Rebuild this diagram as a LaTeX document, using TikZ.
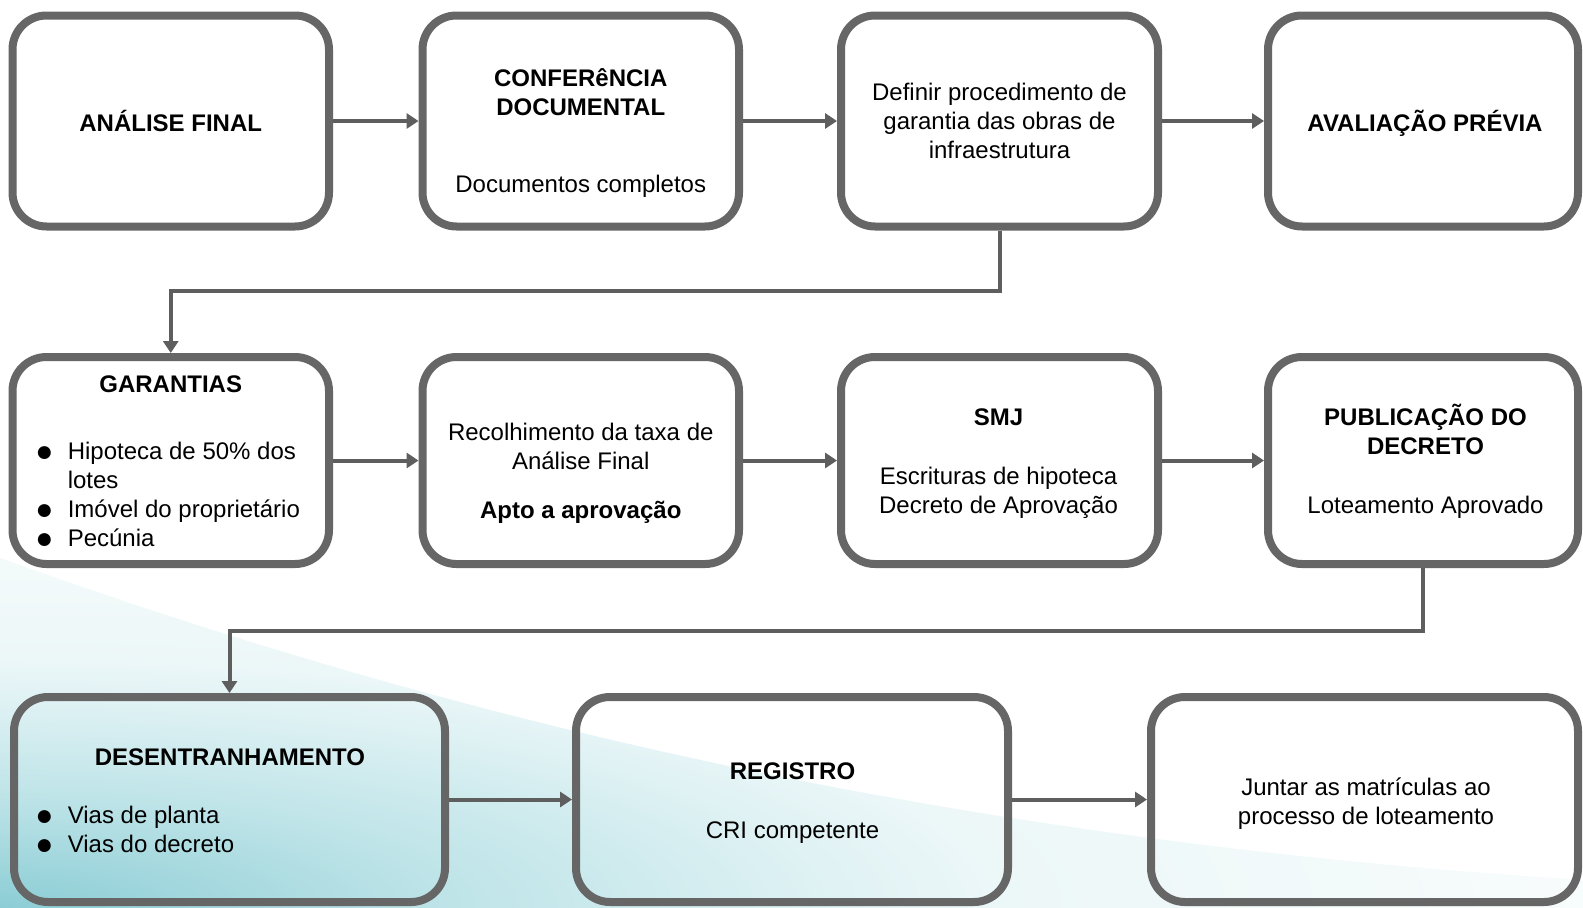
\documentclass[tikz,border=0pt]{standalone}
\usepackage{fontspec}
\setmainfont{Liberation Sans}
\usetikzlibrary{arrows.meta}

\definecolor{boxline}{HTML}{666666}
\definecolor{arrowline}{HTML}{5E5E5E}
\definecolor{glowA}{RGB}{140,205,213}
\definecolor{glowB}{RGB}{190,228,232}
\definecolor{glowC}{RGB}{224,242,244}
\definecolor{glowD}{RGB}{236,247,248}
\definecolor{glowE}{RGB}{246,251,251}

% soft teal glow rising from the lower left corner
\pgfdeclareradialshading{cornerglow}{\pgfpoint{0bp}{0bp}}{%
  color(0bp)=(glowA); color(5.6bp)=(glowB); color(10.5bp)=(glowC);
  color(12.5bp)=(glowD); color(18.75bp)=(glowE); color(25bp)=(white);
  color(50bp)=(white)}

\tikzset{
  stepbox/.style={draw=boxline, line width=8pt, rounded corners=34pt,
    inner sep=0pt},
  txt/.style={inner sep=0pt, anchor=base, font=\fontsize{24}{29}\selectfont},
  ttl/.style={txt, font=\fontsize{24}{29}\selectfont\bfseries},
  bul/.style={inner sep=0pt, anchor=base, font=\fontsize{30}{29}\selectfont},
  itm/.style={txt, anchor=base west},
  flow/.style={draw=arrowline, line width=4pt,
    -{Triangle[length=12pt,width=15pt]}},
}

\begin{document}
\begin{tikzpicture}[x=1pt,y=-1pt]
\useasboundingbox (0,0) rectangle (1583,908);
\fill[white] (0,0) rectangle (1583,908);

\begin{scope}
  \clip (0,558) .. controls (450,720) and (950,840) .. (1583,880)
        -- (1583,908) -- (0,908) -- cycle;
  \shade[shading=cornerglow] (-2000,408) rectangle (2000,1408);
\end{scope}

% ---------- boxes ----------
\node[stepbox, minimum width=316.5pt, minimum height=211pt] (b1) at (170.75,121) {};
\node[stepbox, minimum width=316.5pt, minimum height=211pt] (b2) at (580.75,121) {};
\node[stepbox, minimum width=317pt, minimum height=211pt] (b3) at (999.5,121) {};
\node[stepbox, minimum width=310pt, minimum height=211pt] (b4) at (1423,121) {};

\node[stepbox, minimum width=316.5pt, minimum height=207pt] (b5) at (170.75,460.5) {};
\node[stepbox, minimum width=316.5pt, minimum height=207pt] (b6) at (580.75,460.5) {};
\node[stepbox, minimum width=317pt, minimum height=207pt] (b7) at (999.5,460.5) {};
\node[stepbox, minimum width=310pt, minimum height=207pt] (b8) at (1423,460.5) {};

\node[stepbox, minimum width=431pt, minimum height=205pt] (b9) at (229.5,799.5) {};
\node[stepbox, minimum width=432pt, minimum height=205pt] (b10) at (792,799.5) {};
\node[stepbox, minimum width=427pt, minimum height=205pt] (b11) at (1364.5,799.5) {};

% ---------- texts ----------
\node[ttl] (t1) at (170.75,131.5) {ANÁLISE FINAL};

\node[ttl] (t2a) at (580.75,86.5) {CONFERêNCIA};
\node[ttl] (t2b) at (580.75,115.5) {DOCUMENTAL};
\node[txt] (t2c) at (580.75,192.5) {Documentos completos};

\node[txt] (t3a) at (999.5,100.5) {Definir procedimento de};
\node[txt] (t3b) at (999.5,129.5) {garantia das obras de};
\node[txt] (t3c) at (999.5,158.5) {infraestrutura};

\node[ttl] (t4) at (1425,131.5) {AVALIAÇÃO PRÉVIA};

\node[ttl] (t5) at (170.75,392.5) {GARANTIAS};
\node[bul] (t5b1) at (44.5,461.5) {●};
\node[itm] (t5i1) at (67.6,459.5) {Hipoteca de 50\% dos};
\node[itm] (t5i1b) at (67.6,488.5) {lotes};
\node[bul] (t5b2) at (44.5,519.5) {●};
\node[itm] (t5i2) at (67.6,517.5) {Imóvel do proprietário};
\node[bul] (t5b3) at (44.5,548.5) {●};
\node[itm] (t5i3) at (67.6,546.5) {Pecúnia};

\node[txt] (t6a) at (580.75,440.5) {Recolhimento da taxa de};
\node[txt] (t6b) at (580.75,469.5) {Análise Final};
\node[ttl] (t6c) at (580.75,518.5) {Apto a aprovação};

\node[ttl] (t7a) at (998.5,425.5) {SMJ};
\node[txt] (t7b) at (998.5,484) {Escrituras de hipoteca};
\node[txt] (t7c) at (998.5,513) {Decreto de Aprovação};

\node[ttl] (t8a) at (1425.5,425.5) {PUBLICAÇÃO DO};
\node[ttl] (t8b) at (1425.5,454.5) {DECRETO};
\node[txt] (t8c) at (1425.5,513) {Loteamento Aprovado};

\node[ttl] (t9) at (230,765.5) {DESENTRANHAMENTO};
\node[bul] (t9b1) at (44.5,825.5) {●};
\node[itm] (t9i1) at (67.6,823.5) {Vias de planta};
\node[bul] (t9b2) at (44.5,854.5) {●};
\node[itm] (t9i2) at (67.6,852.5) {Vias do decreto};

\node[ttl] (t10a) at (792.5,779.5) {REGISTRO};
\node[txt] (t10b) at (792.5,838.5) {CRI competente};

\node[txt] (t11a) at (1366,795) {Juntar as matrículas ao};
\node[txt] (t11b) at (1366,824) {processo de loteamento};

% ---------- connectors ----------
\coordinate (r1) at (0,291);
\coordinate (r2) at (0,631);

\draw[flow] (b1.east) -- (b2.west);
\draw[flow] (b2.east) -- (b3.west);
\draw[flow] (b3.east) -- (b4.west);

\draw[flow] (b3.south) -- (b3.south |- r1) -- (b5.north |- r1) -- (b5.north);

\draw[flow] (b5.east) -- (b6.west);
\draw[flow] (b6.east) -- (b7.west);
\draw[flow] (b7.east) -- (b8.west);

\draw[flow] (b8.south) -- (b8.south |- r2) -- (b9.north |- r2) -- (b9.north);

\draw[flow] (b9.east) -- (b10.west);
\draw[flow] (b10.east) -- (b11.west);
\end{tikzpicture}
\end{document}
